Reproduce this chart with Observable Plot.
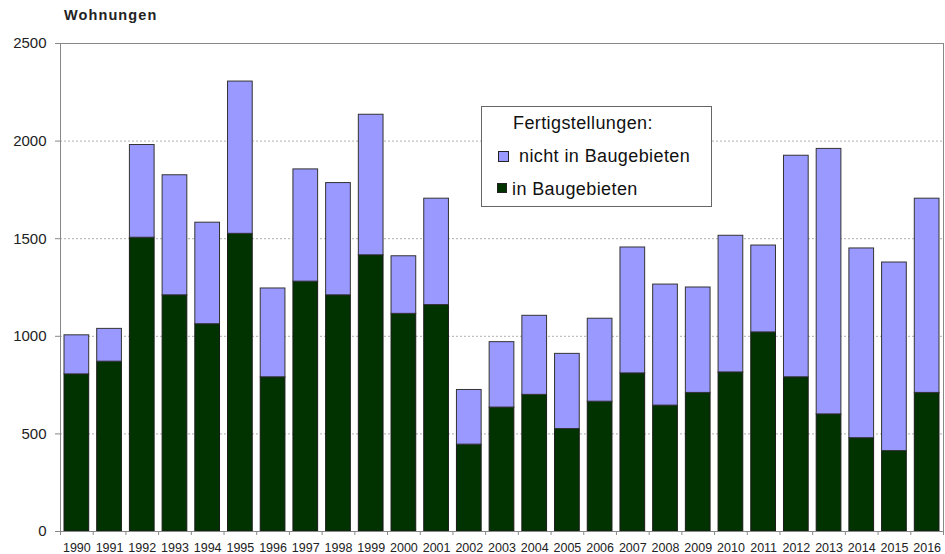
<!DOCTYPE html>
<html><head><meta charset="utf-8">
<script src="https://cdn.jsdelivr.net/npm/d3@7"></script>
<script src="https://cdn.jsdelivr.net/npm/@observablehq/plot@0.6"></script>
<style>
body{margin:0;background:#fff;font-family:"Liberation Sans",Arial,sans-serif}
#wrap{position:relative;width:945px;height:554px}
#title{position:absolute;left:64px;top:8px;line-height:14px;font-weight:bold;font-size:14.5px;letter-spacing:1.1px;color:#222}
#legend{position:absolute;left:481px;top:106px;width:229px;height:99px;border:1px solid #666;background:#fff;font-size:18px;color:#111}
#legend span{position:absolute;line-height:18px;white-space:nowrap;letter-spacing:0.4px}
#legend i{position:absolute;border:1px solid #222;box-sizing:border-box}
</style></head>
<body>
<div id="wrap">
  <div id="chart"></div>
  <div id="title">Wohnungen</div>
  <div id="legend"></div>
</div>
<script>
const years = [1990,1991,1992,1993,1994,1995,1996,1997,1998,1999,2000,2001,2002,2003,2004,2005,2006,2007,2008,2009,2010,2011,2012,2013,2014,2015,2016];
const inBaugebieten = [805,870,1505,1210,1062,1525,790,1280,1210,1415,1115,1160,445,635,700,525,665,810,645,710,815,1020,790,600,478,412,710];
const nichtInBaugebieten = [200,168,475,615,520,780,455,575,575,720,295,545,280,335,405,385,425,645,620,540,700,445,1135,1360,972,966,995];
const yTicks = [0,500,1000,1500,2000,2500];
const legendTitle = "Fertigstellungen:";
const seriesNames = ["nicht in Baugebieten", "in Baugebieten"];
const seriesColors = ["#9999ff", "#003300"];

const data = years.map((year, i) => ({year, inB: inBaugebieten[i], nicht: nichtInBaugebieten[i]}));
const boundaries = years.map(y => y - 0.5).concat([years[years.length - 1] + 0.5]);

const chart = Plot.plot({
  width: 945,
  height: 554,
  marginTop: 43,
  marginBottom: 23,
  marginLeft: 60,
  marginRight: 2,
  style: {fontFamily: "'Liberation Sans', Arial, sans-serif", color: "#222", background: "#fff"},
  x: {type: "linear", domain: [boundaries[0], boundaries[boundaries.length - 1]], axis: null},
  y: {domain: [0, 2500], axis: null},
  marks: [
    Plot.gridY(yTicks, {stroke: "#b0b0b0", strokeOpacity: 1, strokeDasharray: "2,2"}),
    Plot.rectY(data, {x1: d => d.year - 0.5, x2: d => d.year + 0.5, y1: 0, y2: d => d.inB, fill: seriesColors[1], stroke: "#1a1a1a", strokeWidth: 1, insetLeft: 4, insetRight: 4}),
    Plot.rectY(data, {x1: d => d.year - 0.5, x2: d => d.year + 0.5, y1: d => d.inB, y2: d => d.inB + d.nicht, fill: seriesColors[0], stroke: "#333", strokeWidth: 1, insetLeft: 4, insetRight: 4}),
    Plot.frame({stroke: "#888"}),
    Plot.ruleY([0], {stroke: "#888"}),
    Plot.axisY(yTicks, {tickSize: 5, tickPadding: 9, fontSize: 15, stroke: "#888", fill: "#222", tickFormat: d => String(d)}),
    Plot.axisX(years, {tickSize: 0, tickPadding: 12, fontSize: 12.5, tickFormat: d => String(d), fill: "#222"}),
    Plot.axisX(boundaries, {tickSize: 4, stroke: "#888", tickFormat: () => ""})
  ]
});
document.getElementById("chart").appendChild(chart);

const lg = document.getElementById("legend");
lg.innerHTML = `
  <span style="left:31px;top:7px">${legendTitle}</span>
  <i style="left:16px;top:44px;width:11px;height:11px;background:${seriesColors[0]}"></i>
  <span style="left:37px;top:40px">${seriesNames[0]}</span>
  <i style="left:15px;top:76px;width:10px;height:10px;background:${seriesColors[1]}"></i>
  <span style="left:30px;top:73px">${seriesNames[1]}</span>`;
</script>
</body></html>
